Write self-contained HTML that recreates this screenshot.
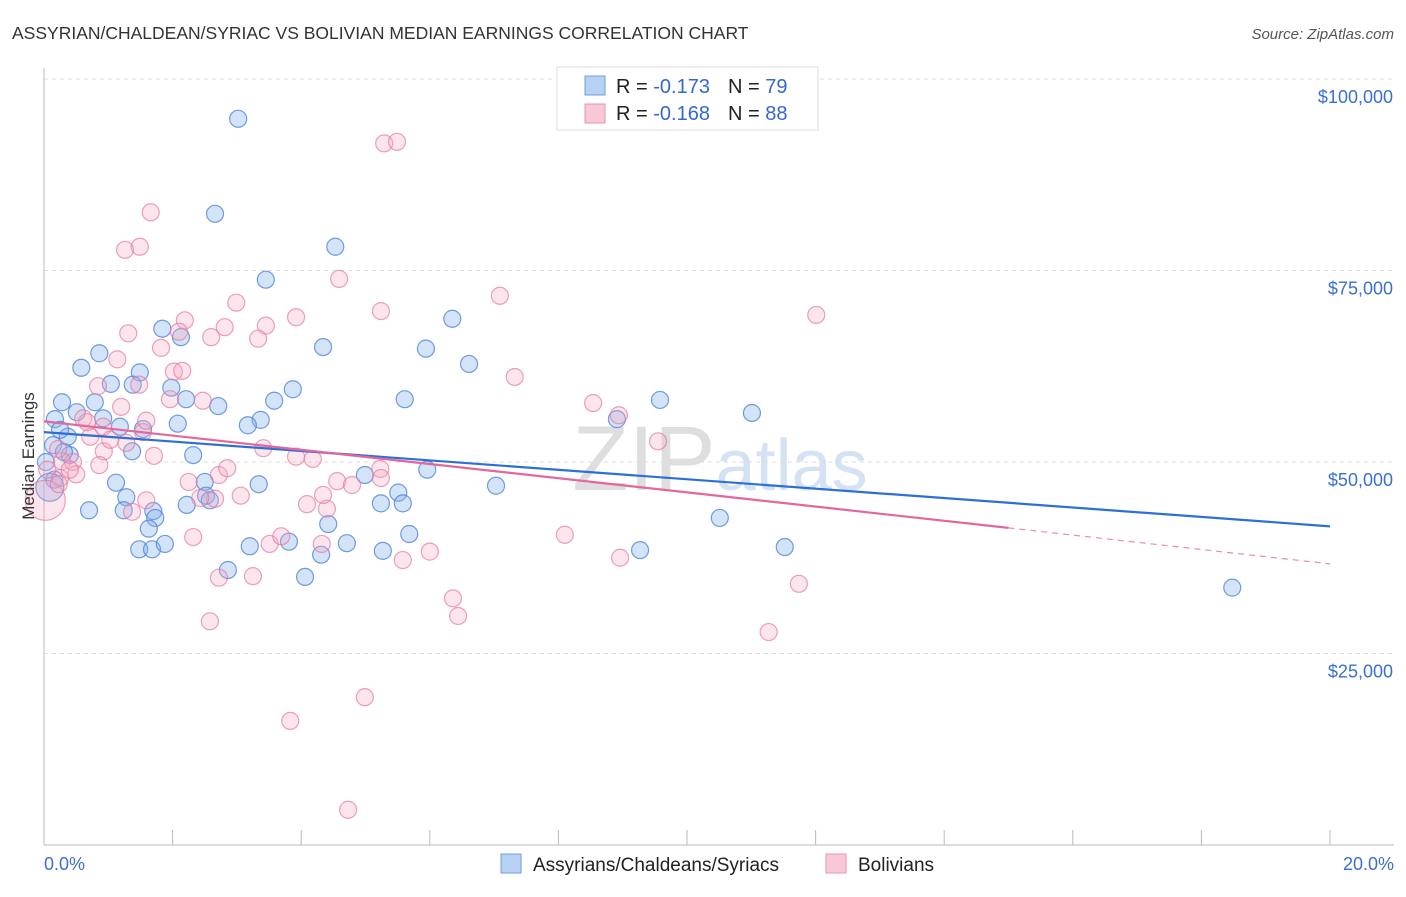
<!DOCTYPE html>
<html><head><meta charset="utf-8"><style>
body{margin:0;background:#fff;font-family:"Liberation Sans",sans-serif;}
svg text{font-family:"Liberation Sans",sans-serif;}
</style></head><body>
<svg id="chart" width="1406" height="892" xmlns="http://www.w3.org/2000/svg">
<text x="12" y="39" font-size="17.5" fill="#333">ASSYRIAN/CHALDEAN/SYRIAC VS BOLIVIAN MEDIAN EARNINGS CORRELATION CHART</text>
<text x="1394" y="39" font-size="15" fill="#555" text-anchor="end" font-style="italic">Source: ZipAtlas.com</text>
<text x="720" y="490" font-size="92" fill="#e6e6e6" text-anchor="middle" font-family="Liberation Serif"><tspan fill="#dedede">ZIP</tspan><tspan fill="#d4e2f4" font-family="Liberation Sans" font-size="72">atlas</tspan></text>
<g id="grid"></g><g id="axes"></g><g id="pts"></g><g id="trends"></g>
<text transform="translate(34,456) rotate(-90)" font-size="17" fill="#333" text-anchor="middle">Median Earnings</text>
<g>
<rect x="557" y="67" width="261" height="63" fill="#fff" stroke="#ddd"/>
<rect x="585" y="76" width="20" height="19" fill="#b7d1f3" stroke="#6f9ee0"/>
<rect x="585" y="104" width="20" height="19" fill="#f8c8d6" stroke="#ea94b0"/>
<text x="616" y="93" font-size="20" fill="#222">R = <tspan fill="#3568cf">-0.173</tspan><tspan dx="18">N = </tspan><tspan fill="#3568cf">79</tspan></text>
<text x="616" y="120" font-size="20" fill="#222">R = <tspan fill="#3568cf">-0.168</tspan><tspan dx="18">N = </tspan><tspan fill="#3568cf">88</tspan></text>
</g>
<g>
<rect x="501" y="854" width="20" height="19" fill="#b7d1f3" stroke="#6f9ee0"/>
<text x="533" y="871" font-size="19" fill="#222">Assyrians/Chaldeans/Syriacs</text>
<rect x="826" y="854" width="20" height="19" fill="#f8c8d6" stroke="#ea94b0"/>
<text x="858" y="871" font-size="19" fill="#222">Bolivians</text>
</g>
<text x="44" y="870" font-size="18" fill="#3d6fd1">0.0%</text>
<text x="1394" y="870" font-size="18" fill="#3d6fd1" text-anchor="end">20.0%</text>
</svg>
<script>
const yTicks=[25000,50000,75000,100000];
const yTickLabels=["$25,000","$50,000","$75,000","$100,000"];
const xTicks=[0,2,4,6,8,10,12,14,16,18,20];
const blueX=[3.02,2.66,4.53,3.45,1.84,2.13,0.86,4.34,6.35,5.94,6.61,0.58,1.04,1.49,1.98,2.21,3.87,1.38,0.28,0.79,3.58,2.71,5.61,0.17,0.51,0.92,1.18,1.54,2.08,3.37,3.17,0.37,0.14,0.40,1.37,2.32,0.03,4.99,5.96,7.03,8.91,9.58,11.01,0.16,1.12,1.28,2.22,2.50,2.52,2.58,3.34,5.24,5.51,5.58,1.24,1.70,0.70,1.73,1.63,4.42,5.68,1.48,1.68,1.88,3.20,3.81,4.71,4.31,5.27,2.86,4.06,9.27,10.51,11.52,18.48,0.09,0.25,0.31];
const blueY=[94800,82400,78100,73800,67400,66300,64200,65000,68700,64800,62800,62300,60200,61700,59700,58200,59500,60100,57800,57800,58000,57300,58200,55600,56500,55700,54600,54300,55000,55500,54800,53300,52200,50900,51400,50900,50000,48300,49000,46900,55600,58100,56400,47700,47300,45400,44400,47400,45600,45000,47100,44600,46000,44600,43700,43600,43700,42700,41300,41900,40600,38600,38600,39300,39000,39600,39400,37900,38400,35900,35000,38500,42700,38900,33600,46700,54200,51300];
const blueR=[8.5,8.5,8.5,8.5,8.5,8.5,8.5,8.5,8.5,8.5,8.5,8.5,8.5,8.5,8.5,8.5,8.5,8.5,8.5,8.5,8.5,8.5,8.5,8.5,8.5,8.5,8.5,8.5,8.5,8.5,8.5,8.5,8.5,8.5,8.5,8.5,8.5,8.5,8.5,8.5,8.5,8.5,8.5,8.5,8.5,8.5,8.5,8.5,8.5,8.5,8.5,8.5,8.5,8.5,8.5,8.5,8.5,8.5,8.5,8.5,8.5,8.5,8.5,8.5,8.5,8.5,8.5,8.5,8.5,8.5,8.5,8.5,8.5,8.5,8.5,14,8.5,8.5];
const pinkX=[3.83,4.73,4.99,2.58,2.72,3.25,6.44,6.36,11.27,11.74,8.96,8.10,6.00,5.58,3.51,3.69,2.32,4.32,4.09,4.40,4.56,4.79,4.34,3.06,2.66,2.43,1.59,1.37,2.25,2.72,2.85,3.92,4.18,5.23,5.24,1.71,1.28,0.72,0.92,0.61,1.54,3.41,9.55,8.94,8.54,7.32,7.09,5.24,4.59,3.92,2.99,2.81,3.45,3.33,2.60,2.19,2.10,1.82,1.14,1.31,0.84,1.48,1.20,2.02,2.15,1.96,2.47,1.59,0.45,0.50,0.28,0.22,0.25,0.02,0.05,1.26,1.49,1.66,5.29,5.49,12.01,0.67,0.93,0.86,0.23,0.40,1.03];
const pinkY=[16200,4600,19300,29200,34900,35100,29900,32200,27800,34100,37500,40500,38300,37200,39300,40300,40200,39300,44500,43900,47500,47000,45700,45600,45200,45300,45000,43500,47400,48300,49200,50700,50400,49100,47900,50800,52500,53300,54600,55700,53900,51800,52700,56100,57700,61100,71700,69700,73900,68900,70800,67600,67800,66100,66300,68500,67000,64900,63400,66800,59900,60100,57200,61800,61900,58200,58000,55400,50000,48400,50100,51700,47900,45000,49000,77700,78100,82600,91600,91800,69200,55200,51400,49600,47100,49000,52900];
const blueTrend=[[0,53900],[20,41600]];
const pinkTrend=[[0,55300],[15,41400]];
const pinkTrendDash=[[15,41400],[20,36700]];
const X0=44,X1=1330,Y0=845,Y1=79;
function sx(v){return X0+(v/20)*(X1-X0);}
function sy(v){return Y0-(v/100000)*(Y0-Y1);}
const NS="http://www.w3.org/2000/svg";
function mk(t,a,p){const e=document.createElementNS(NS,t);for(const k in a)e.setAttribute(k,a[k]);p.appendChild(e);return e;}
const grid=document.getElementById('grid'),axes=document.getElementById('axes'),pts=document.getElementById('pts'),tr=document.getElementById('trends');
yTicks.forEach((v,i)=>{
 const l=mk('line',{x1:X0,x2:1394,y1:sy(v),y2:sy(v),stroke:'#ddd','stroke-dasharray':'4,4'},grid);
 
 
 const t=mk('text',{x:1393,y:sy(v)+24,'font-size':18,fill:'#3d6fd1','text-anchor':'end'},grid);
 t.textContent=yTickLabels[i];
 
 
});
const ya=mk('line',{x1:X0,x2:X0,y1:68,y2:Y0,stroke:'#bbb'},axes);


const xa=mk('line',{x1:X0,x2:1394,y1:Y0,y2:Y0,stroke:'#bbb'},axes);


xTicks.forEach(v=>{
 const l=mk('line',{x1:sx(v),x2:sx(v),y1:Y0-15,y2:Y0,stroke:'#bbb'},axes);
 
 
});
blueX.forEach((v,i)=>{
 const c=mk('circle',{cx:sx(v),cy:sy(blueY[i]),r:blueR[i]||8.5,fill:'rgba(130,175,235,0.35)',stroke:'rgba(70,125,215,0.75)','stroke-width':1.2},pts);
 
 
});
pinkX.forEach((v,i)=>{
 const r=(i===73)?20:8.5;
 const c=mk('circle',{cx:sx(v),cy:sy(pinkY[i]),r:r,fill:'rgba(245,170,195,0.3)',stroke:'rgba(230,120,160,0.7)','stroke-width':1.2},pts);
 
 
});
function line(p,col,dash,name,w){
 const l=mk('line',{x1:sx(p[0][0]),y1:sy(p[0][1]),x2:sx(p[1][0]),y2:sy(p[1][1]),stroke:col,'stroke-width':w},tr);
 if(dash)l.setAttribute('stroke-dasharray',dash);
 
 
}
line(blueTrend,'#2c6fd8',null,'assyrian-trend-line',2.2);
line(pinkTrend,'#e2679a',null,'bolivian-trend-line',2.2);
line(pinkTrendDash,'#e98bb0','6,5','bolivian-trend-extension',1.2);
</script>
</body></html>
